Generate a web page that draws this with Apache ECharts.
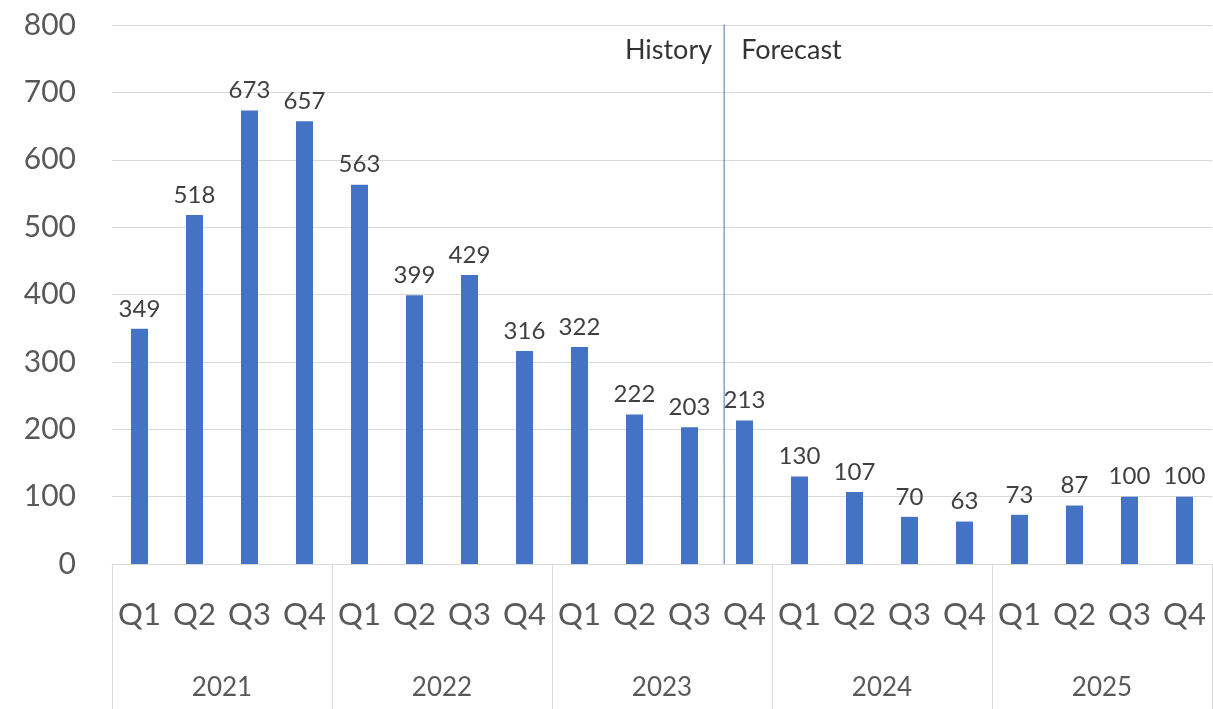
<!DOCTYPE html>
<html>
<head>
<meta charset="utf-8">
<script src="https://cdn.jsdelivr.net/npm/echarts@6/dist/echarts.min.js"></script>
<style>
  html, body { margin: 0; padding: 0; background: #fff; }
  #chart { width: 1213px; height: 709px; }
</style>
</head>
<body>
<div id="chart"></div>
<script>
// Quarterly values, 2021 to 2025
const quarters = ['Q1', 'Q2', 'Q3', 'Q4'];
const years = ['2021', '2022', '2023', '2024', '2025'];
const values = [349, 518, 673, 657, 563, 399, 429, 316, 322, 222, 203, 213, 130, 107, 70, 63, 73, 87, 100, 100];
const yTicks = { min: 0, max: 800, interval: 100 };
// History / forecast divider, in category units from the left edge
const dividerPos = 11.13;
const dividerTop = 805;
const dividerLabelY = 762;

const categories = [];
years.forEach(y => quarters.forEach(q => categories.push(q)));

const FONT = 'Lato, "Open Sans", sans-serif';
const chart = echarts.init(document.getElementById('chart'));

chart.setOption({
  animation: false,
  backgroundColor: '#ffffff',
  grid: { left: 112, right: 1, top: 25, bottom: 145, containLabel: false },
  xAxis: [
    {
      type: 'category',
      data: categories,
      position: 'bottom',
      axisLine: { show: true, lineStyle: { color: '#d9d9d9', width: 1 } },
      axisTick: { show: false },
      axisLabel: { interval: 0, color: '#595959', fontFamily: FONT, fontSize: 31, margin: 35 },
      splitLine: { show: false }
    },
    {
      type: 'category',
      data: years,
      position: 'bottom',
      axisLine: { show: false },
      axisTick: { show: true, interval: 0, length: 145, lineStyle: { color: '#d9d9d9', width: 1 } },
      axisLabel: { interval: 0, color: '#595959', fontFamily: FONT, fontSize: 26, margin: 111 },
      splitLine: { show: false }
    },
    {
      type: 'value',
      min: 0,
      max: categories.length,
      show: false
    }
  ],
  yAxis: {
    type: 'value',
    min: yTicks.min,
    max: yTicks.max,
    interval: yTicks.interval,
    axisLine: { show: false },
    axisTick: { show: false },
    axisLabel: { color: '#595959', fontFamily: FONT, fontSize: 30, margin: 36 },
    splitLine: { lineStyle: { color: '#d9d9d9', width: 1 } }
  },
  series: [
    {
      type: 'bar',
      xAxisIndex: 0,
      data: values,
      barWidth: 17,
      itemStyle: { color: '#4472C4' },
      label: {
        show: true,
        position: 'top',
        distance: 8,
        color: '#404040',
        fontFamily: FONT,
        fontSize: 24
      }
    },
    {
      type: 'line',
      xAxisIndex: 2,
      data: [[dividerPos, 0], [dividerPos, dividerTop]],
      symbol: 'none',
      lineStyle: { color: '#4472C4', width: 1 },
      z: 5
    },
    {
      type: 'scatter',
      xAxisIndex: 2,
      symbolSize: 0,
      data: [
        { value: [dividerPos, dividerLabelY], label: { show: true, position: 'left', distance: 12, formatter: 'History' } },
        { value: [dividerPos, dividerLabelY], label: { show: true, position: 'right', distance: 17, formatter: 'Forecast' } }
      ],
      label: { color: '#000000', fontFamily: FONT, fontSize: 27 },
      silent: true
    }
  ]
});
</script>
</body>
</html>
